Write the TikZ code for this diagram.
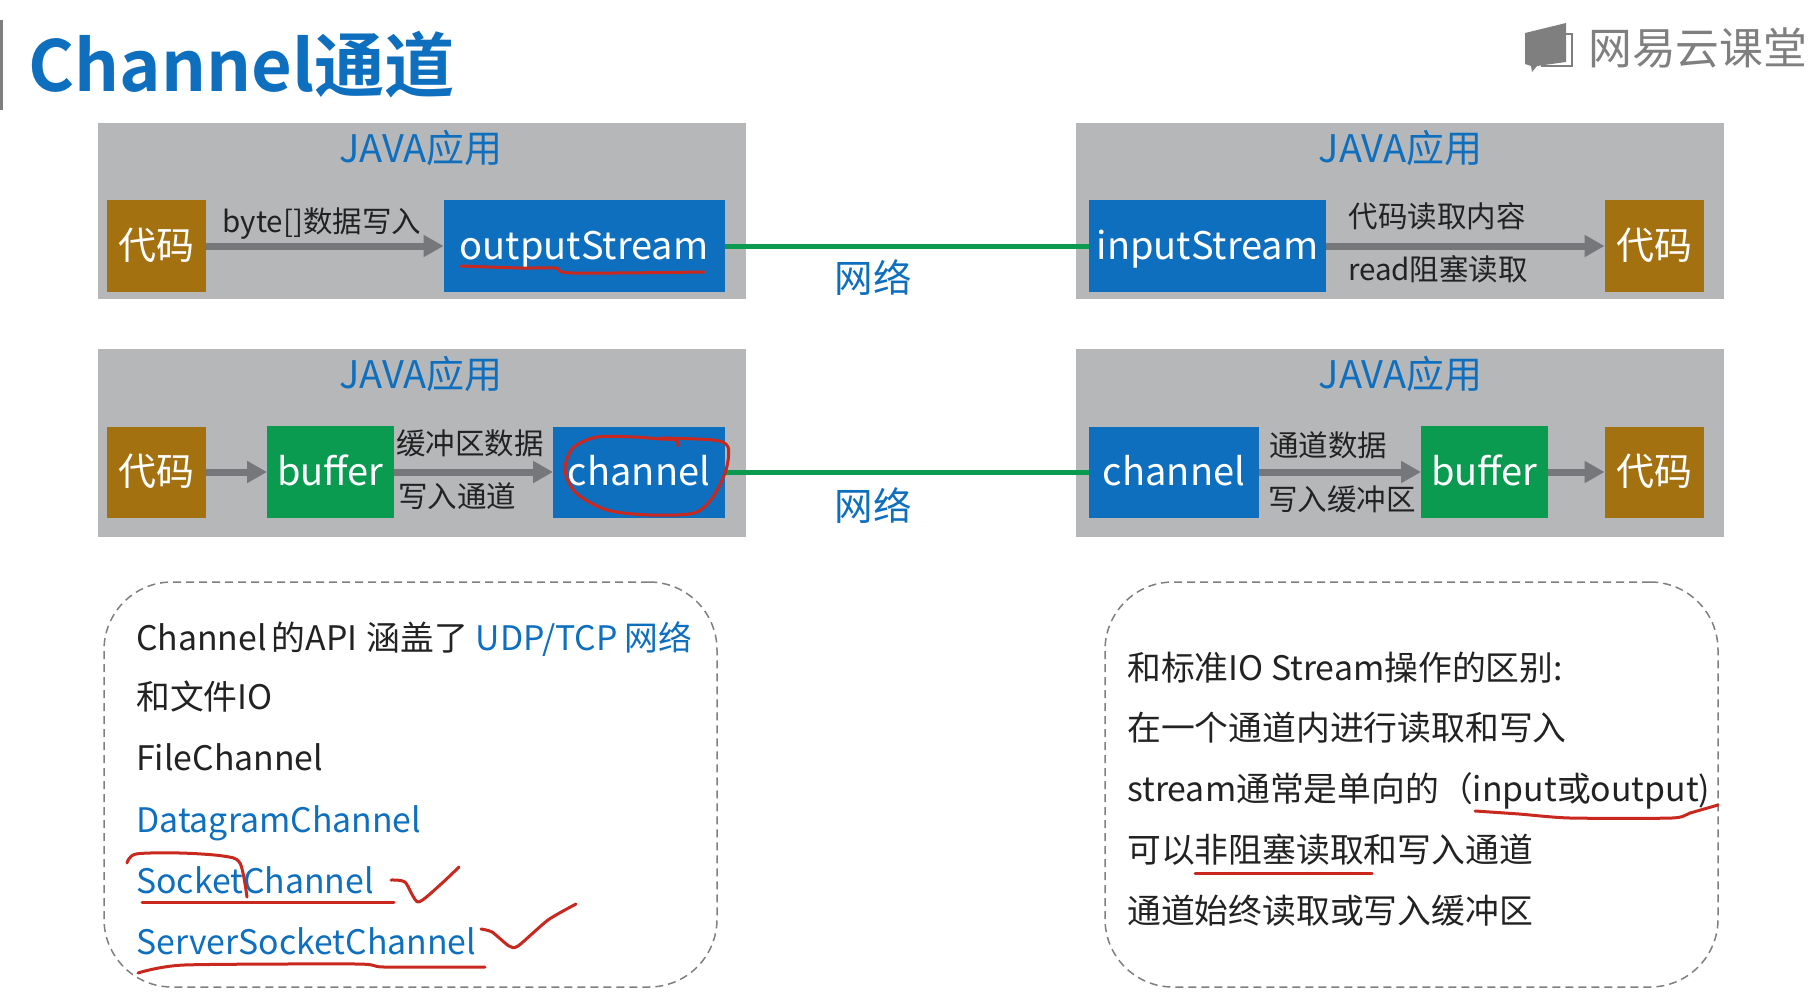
\documentclass[tikz,border=0pt]{standalone}
\usepackage{fontspec}
\setmainfont{Noto Sans CJK SC}[BoldFont=* Bold]
\usetikzlibrary{arrows.meta}
\definecolor{boxgray}{HTML}{B6B7B9}
\definecolor{codebrown}{HTML}{A37110}
\definecolor{streamblue}{HTML}{0F6FBF}
\definecolor{bufgreen}{HTML}{0A9A50}
\definecolor{arrowgray}{HTML}{75777B}
\definecolor{inkred}{HTML}{C8281E}
\definecolor{textblack}{HTML}{222222}
\definecolor{logogray}{HTML}{7F7F7F}
\tikzset{
  appbox/.style={rectangle,fill=boxgray,minimum width=648pt,inner sep=0pt,outer sep=0pt},
  appname/.style={inner sep=0pt,text=streamblue,text height=31pt,text depth=6pt,font=\fontsize{38}{42}\selectfont},
  block/.style={rectangle,inner sep=0pt,outer sep=0pt,text=white,text height=34pt,text depth=8pt,font=\fontsize{38}{42}\selectfont},
  codeblock/.style={block,fill=codebrown,minimum width=99pt,minimum height=92pt},
  streamblock/.style={block,fill=streamblue,minimum height=92pt},
  bufblock/.style={block,fill=bufgreen,minimum height=92pt},
  flowlabel/.style={inner sep=0pt,text=textblack,text height=28pt,text depth=6pt,font=\fontsize{29.5}{34}\selectfont},
  netlabel/.style={inner sep=0pt,text=streamblue,text height=35pt,text depth=6pt,font=\fontsize{38.5}{42}\selectfont},
  noteline/.style={anchor=west,inner sep=0pt,text=textblack,text height=33pt,text depth=7pt,font=\fontsize{33.8}{40}\selectfont},
  notebox/.style={rectangle,draw=logogray,line width=1.5pt,dash pattern=on 8pt off 5pt,rounded corners=68pt,minimum width=613pt,minimum height=405pt,inner sep=0pt},
  flow/.style={draw=arrowgray,line width=7pt,-{Triangle[length=20pt,width=21pt]}},
  netline/.style={draw=bufgreen,line width=5pt},
  ink/.style={draw=inkred,line width=3pt,line cap=round,line join=round}
}
\begin{document}
\begin{tikzpicture}[x=1pt,y=-1pt]
  \useasboundingbox (0,0) rectangle (1814,1002);

  % header
  \fill[logogray] (0,20) rectangle (2.5,110);
  \node[anchor=west,inner sep=0pt,text=streamblue,font=\fontsize{70.3}{80}\selectfont\bfseries]
  (title) at (28.5,65) {Channel通道};
  \fill[logogray] (1525,33) -- (1566,23) -- (1566,62) -- (1537,66) -- (1532,72) -- (1531,66) -- (1525,64) -- cycle;
  \draw[logogray,line width=2pt] (1566,34) -- (1572,34) -- (1572,66) -- (1541,66);
  \node[anchor=west,inner sep=0pt,text=logogray,font=\fontsize{43.8}{48}\selectfont]
  (logo) at (1588,48) {网易云课堂};

  % grey application boxes
  \node[appbox,minimum height=176pt] (app1) at (422,211) {};
  \node[appbox,minimum height=176pt] (app2) at (1400,211) {};
  \node[appbox,minimum height=188pt] (app3) at (422,443) {};
  \node[appbox,minimum height=188pt] (app4) at (1400,443) {};
  \node[appname] (name1) at (421,150) {JAVA应用};
  \node[appname] (name2) at (1400.5,150) {JAVA应用};
  \node[appname] (name3) at (421,376) {JAVA应用};
  \node[appname] (name4) at (1400.5,376) {JAVA应用};

  % first row
  \node[codeblock] (code1) at (156,246) {代码};
  \node[streamblock,minimum width=281pt] (out) at (584,246) {outputStream};
  \node[streamblock,minimum width=237pt] (in) at (1207.5,246) {inputStream};
  \node[codeblock] (code2) at (1654,246) {代码};

  % second row
  \node[codeblock,minimum height=91pt] (code3) at (156,472) {代码};
  \node[bufblock,minimum width=127pt] (buf1) at (330.5,472) {buffer};
  \node[streamblock,minimum width=172pt,minimum height=91pt] (chan1) at (639,472) {channel};
  \node[streamblock,minimum width=170pt,minimum height=91pt] (chan2) at (1174,472) {channel};
  \node[bufblock,minimum width=127pt] (buf2) at (1484.5,472) {buffer};
  \node[codeblock,minimum height=91pt] (code4) at (1654,472) {代码};

  \draw[flow] (code1) -- (out);
  \draw[flow] (in) -- (code2);
  \draw[flow] (code3) -- (buf1);
  \draw[flow] (buf1) -- (chan1);
  \draw[flow] (chan2) -- (buf2);
  \draw[flow] (buf2) -- (code4);
  \draw[netline] (out) -- (in);
  \draw[netline] (chan1) -- (chan2);

  \node[flowlabel] (lab1) at (322,221) {byte[]数据写入};
  \node[flowlabel] (lab2) at (1437,216) {代码读取内容};
  \node[flowlabel] (lab3) at (1438,269) {read阻塞读取};
  \node[flowlabel] (lab4) at (470,443) {缓冲区数据};
  \node[flowlabel] (lab5) at (457,496) {写入通道};
  \node[flowlabel] (lab6) at (1328,445) {通道数据};
  \node[flowlabel] (lab7) at (1342,499) {写入缓冲区};
  \node[netlabel] (net1) at (873,278) {网络};
  \node[netlabel] (net2) at (873,506) {网络};

  % notes
  \node[notebox] (note1) at (410.5,784.5) {};
  \node[notebox] (note2) at (1411.5,784.5) {};

  \node[noteline] (l1) at (136,637) {Channel\hspace{5pt}的API\hspace{9pt}涵盖了\hspace{8pt}\textcolor{streamblue}{UDP/TCP\hspace{7pt}网络}};
  \node[noteline] (l2) at (136,696) {和文件IO};
  \node[noteline] (l3) at (136,757) {FileChannel};
  \node[noteline,text=streamblue] (l4) at (136,819) {DatagramChannel};
  \node[noteline,text=streamblue] (l5) at (136,880) {SocketChannel};
  \node[noteline,text=streamblue] (l6) at (136,941) {ServerSocketChannel};

  \node[noteline] (r1) at (1127,667) {和标准IO Stream操作的区别:};
  \node[noteline] (r2) at (1127,727.5) {在一个通道内进行读取和写入};
  \node[noteline] (r3) at (1127,788.5) {stream通常是单向的（input或output)};
  \node[noteline] (r4) at (1127,849.5) {可以非阻塞读取和写入通道};
  \node[noteline] (r5) at (1127,910.5) {通道始终读取或写入缓冲区};

  % red pen marks
  \draw[ink] plot[smooth] coordinates {(461,266) (520,268) (555,268) (573,273) (704,272)};
  \draw[ink] plot[smooth] coordinates {(678,446) (676,440) (660,439) (634,437) (597,437) (573,448) (565,470) (576,493) (607,510) (650,515) (694,513) (713,497) (726,470) (728,447) (713,440) (660,438)};
  \draw[ink] plot[smooth] coordinates {(127,863) (136,854) (180,853) (223,856) (240,863) (247,897)};
  \draw[ink] (142,902) -- (394,902);
  \draw[ink] plot[smooth,tension=0.4] coordinates {(391,880) (405,882) (418,902) (440,885) (459,867)};
  \draw[ink] plot[smooth,tension=0.4] coordinates {(138,973) (184,965) (357,964) (384,967) (485,967)};
  \draw[ink] plot[smooth,tension=0.4] coordinates {(481,929) (492,932) (509,946) (518,946) (548,920) (576,904)};
  \draw[ink] plot[smooth,tension=0.4] coordinates {(1475,811) (1519,814) (1570,818) (1672,818) (1690,813) (1718,805)};
  \draw[ink] (1195,873) -- (1372,873);
\end{tikzpicture}
\end{document}
